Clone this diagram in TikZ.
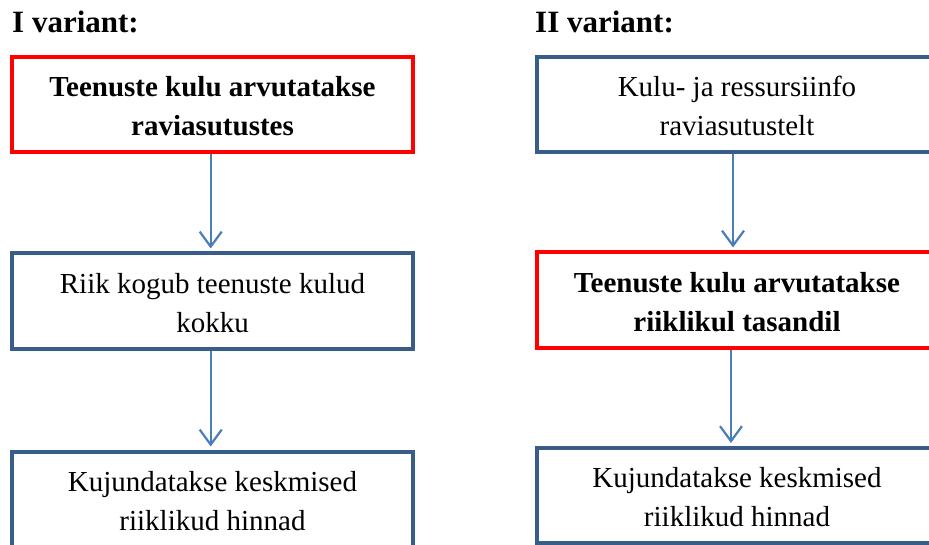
\documentclass[tikz,border=0pt]{standalone}
\usepackage{fontspec}
\setmainfont{Liberation Serif}
\usetikzlibrary{arrows.meta}
\definecolor{boxblue}{RGB}{56,93,138}
\definecolor{arrblue}{RGB}{74,126,187}
\definecolor{boxred}{RGB}{255,0,0}
\tikzset{
  fbox/.style={draw=boxblue, line width=4pt, rectangle, minimum width=401pt, minimum height=95pt,
    align=center, inner sep=0pt, font=\fontsize{29}{39}\selectfont},
  redbox/.style={fbox, draw=boxred, font=\fontsize{29}{39}\selectfont\bfseries},
  title/.style={anchor=base west, inner sep=0pt, font=\fontsize{31}{37}\selectfont\bfseries},
  arr/.style={draw=arrblue, line width=2.2pt, shorten >=3pt,
    -{Straight Barb[length=15pt,width=22pt,line width=2.2pt]}}
}
\newcommand{\hstrut}{\rule{0pt}{24pt}}
\begin{document}
\begin{tikzpicture}[x=1pt,y=-1pt]
\useasboundingbox (0,0) rectangle (929,545);
\clip (0,0) rectangle (929,545);
\node[title] (h1) at (12,33) {I variant:};
\node[title] (h2) at (535,33) {II variant:};
% left column
\node[redbox] (a1) at (212.5,104.5) {\hstrut Teenuste kulu arvutatakse\\raviasutustes};
\node[fbox] (a2) at (212.5,301) {\hstrut Riik kogub teenuste kulud\\kokku};
\node[fbox] (a3) at (212.5,499) {\hstrut Kujundatakse keskmised\\riiklikud hinnad};
% right column
\node[fbox] (b1) at (737,104.5) {\hstrut Kulu- ja ressursiinfo\\raviasutustelt};
\node[redbox] (b2) at (737,300) {\hstrut Teenuste kulu arvutatakse\\riiklikul tasandil};
\node[fbox] (b3) at (737,495.5) {\hstrut Kujundatakse keskmised\\riiklikud hinnad};
% arrows
\draw[arr] ([xshift=-1.8pt]a1.south) -- ([xshift=-1.8pt]a2.north);
\draw[arr] ([xshift=-1.8pt]a2.south) -- ([xshift=-1.8pt]a3.north);
\draw[arr] ([xshift=-4pt]b1.south) -- ([xshift=-4pt]b2.north);
\draw[arr] ([xshift=-6pt]b2.south) -- ([xshift=-6pt]b3.north);
\end{tikzpicture}
\end{document}
